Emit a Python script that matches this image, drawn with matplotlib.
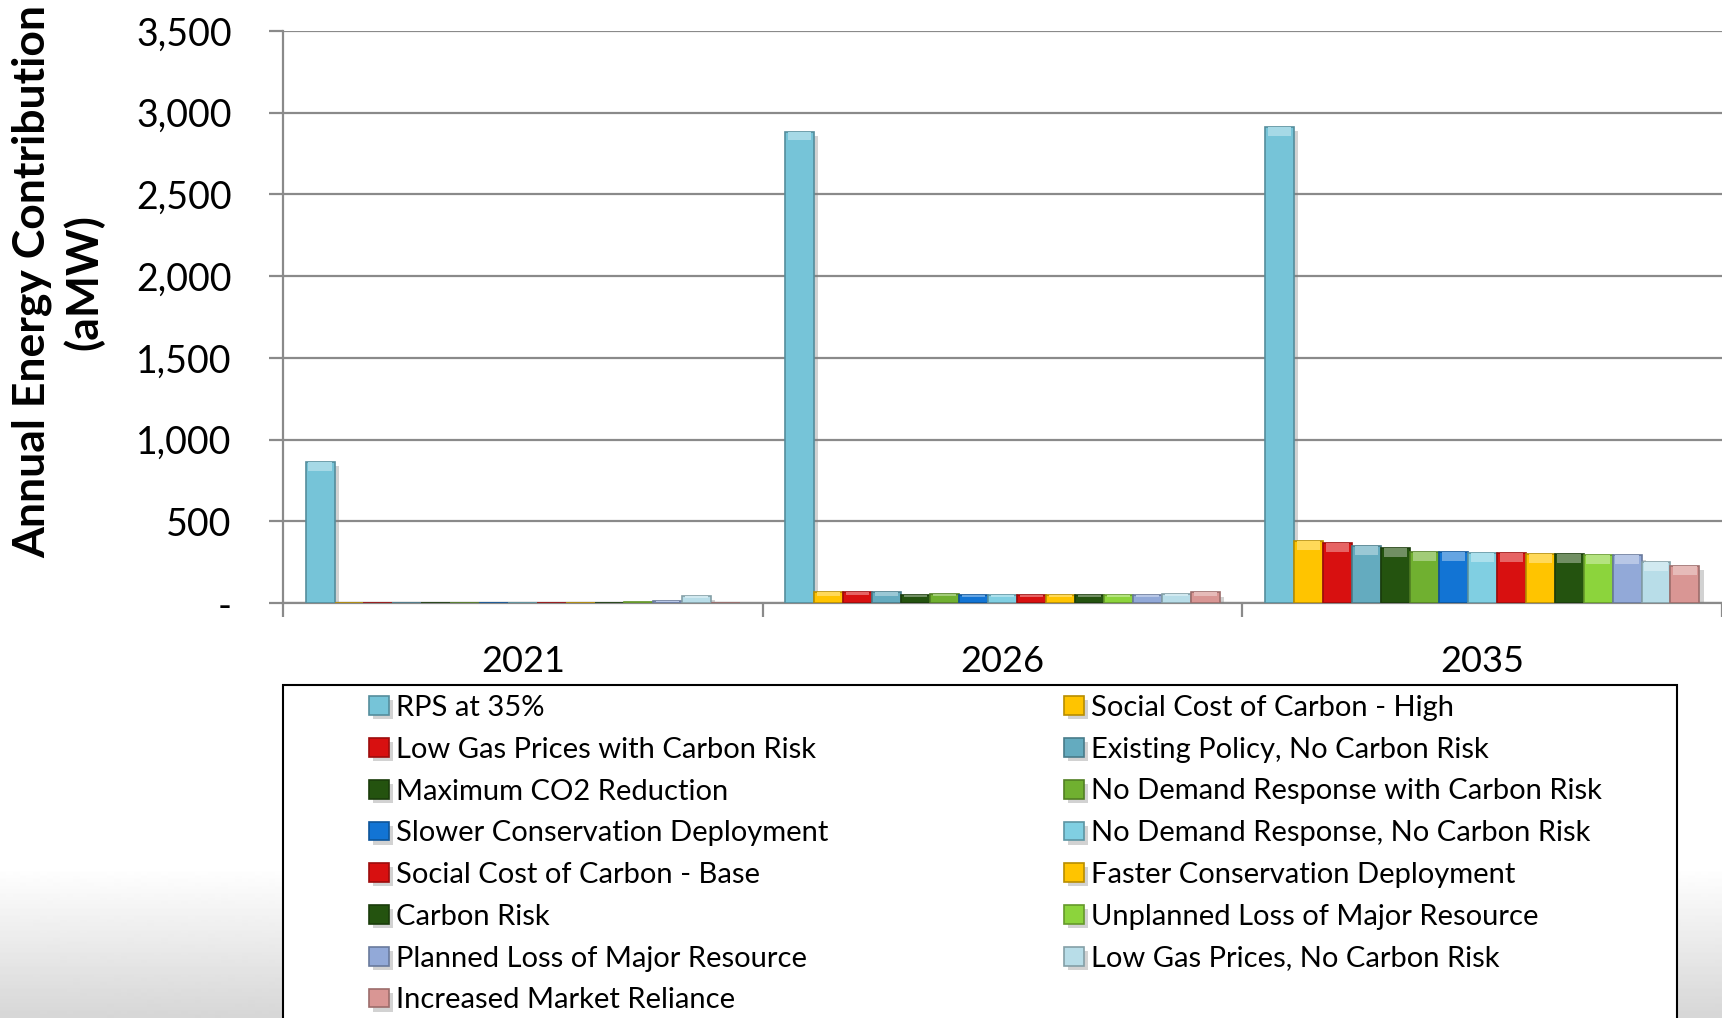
import numpy as np
import matplotlib
matplotlib.use('Agg')
import matplotlib.pyplot as plt
import matplotlib.patheffects as pe
from matplotlib.colors import to_rgb
from matplotlib.patches import Rectangle
from matplotlib.ticker import FuncFormatter

plt.rcParams['font.family'] = ['Lato', 'DejaVu Sans']

years = ['2021', '2026', '2035']

scenarios = ['RPS at 35%', 'Social Cost of Carbon - High',
             'Low Gas Prices with Carbon Risk', 'Existing Policy, No Carbon Risk',
             'Maximum CO2 Reduction', 'No Demand Response with Carbon Risk',
             'Slower Conservation Deployment', 'No Demand Response, No Carbon Risk',
             'Social Cost of Carbon - Base', 'Faster Conservation Deployment',
             'Carbon Risk', 'Unplanned Loss of Major Resource',
             'Planned Loss of Major Resource', 'Low Gas Prices, No Carbon Risk',
             'Increased Market Reliance']

# aMW per scenario, one list per year
vals_2021 = [862, 3, 3, 2, 2, 1, 2, 1, 2, 2, 2, 9, 13, 41, 0]
vals_2026 = [2885, 65, 66, 65, 49, 57, 49, 49, 49, 49, 49, 49, 49, 57, 65]
vals_2035 = [2914, 379, 365, 346, 338, 314, 310, 308, 308, 300, 300, 291, 291, 253, 228]

colors = ['#76c4d8', '#ffc400', '#d81010', '#64abbf', '#24530f', '#70b030',
          '#1274d4', '#80cfe2', '#d81010', '#ffc400', '#24530f', '#8cd43c',
          '#92a9d8', '#b8dde8', '#d99694']


def shade(c, f):
    r, g, b = to_rgb(c)
    if f < 1:
        return (r * f, g * f, b * f)
    t = f - 1
    return (r + (1 - r) * t, g + (1 - g) * t, b + (1 - b) * t)


fig = plt.figure(figsize=(17.22, 10.18), dpi=100)

# slide background: white fading to grey at the bottom
bg = fig.add_axes([0, 0, 1, 1], zorder=-10)
grad = np.ones(1018)
ramp = np.arange(1018) >= 868
grad[ramp] = 1 - 0.16 * (np.arange(1018)[ramp] - 868) / 150
bg.imshow(grad[:, None], cmap='gray', vmin=0, vmax=1, aspect='auto', extent=[0, 1, 0, 1])
bg.axis('off')

ax = fig.add_axes([283 / 1722, 1 - 603 / 1018, 1 - 283 / 1722, 572 / 1018])

data = np.array([vals_2021, vals_2026, vals_2035])
x = np.arange(len(years))
n = len(scenarios)
w = 0.906 / n
shadow = [pe.SimplePatchShadow(offset=(3, -3), shadow_rgbFace='#808080', alpha=0.35), pe.Normal()]

handles = []
for i in range(n):
    pos = x + (i - (n - 1) / 2) * w
    v = data[:, i]
    b = ax.bar(pos, v, width=w, color=colors[i], edgecolor=shade(colors[i], 0.72),
               linewidth=1.2, zorder=3, path_effects=shadow, label=scenarios[i])
    cap = np.minimum(55, v * 0.3)
    ax.bar(pos, cap, bottom=v - cap, width=w * 0.8, color=shade(colors[i], 1.35),
           linewidth=0, zorder=4)
    handles.append(b)

ax.set_xlim(-0.5, 2.5)
ax.set_ylim(0, 3500)
ax.set_yticks(range(0, 3501, 500))
ax.yaxis.set_major_formatter(FuncFormatter(lambda v, p: '-' if v == 0 else f'{v:,.0f}'))
ax.set_xticks(x)
ax.set_xticklabels(years)
ax.set_xticks([-0.5, 0.5, 1.5, 2.5], minor=True)
ax.grid(axis='y', color='#8a8a8a', linewidth=1.6, zorder=0)
ax.set_axisbelow(True)
for s in ['top', 'right']:
    ax.spines[s].set_visible(False)
for s in ['left', 'bottom']:
    ax.spines[s].set_color('#8a8a8a')
    ax.spines[s].set_linewidth(1.6)
ax.tick_params(axis='y', length=10, width=1.6, color='#8a8a8a', labelsize=27, pad=27)
ax.tick_params(axis='x', which='major', length=0, labelsize=26, pad=30)
ax.tick_params(axis='x', which='minor', length=10, width=1.6, color='#8a8a8a')

fig.text(58 / 1722, 1 - 282 / 1018, 'Annual Energy Contribution\n(aMW)', rotation=90,
         ha='center', va='center', fontsize=32, fontweight='bold', linespacing=1.3,
         multialignment='center')

# legend box with two columns, filled row by row
frame = Rectangle((283 / 1722, -0.01), (1677 - 283) / 1722, (1018 - 685) / 1018 + 0.01,
                  transform=fig.transFigure, facecolor='white', edgecolor='black',
                  linewidth=1.5, zorder=1)
fig.add_artist(frame)

kw = dict(loc='upper left', frameon=False, borderpad=0, borderaxespad=0, fontsize=21,
          handlelength=0.68, handleheight=0.62, handletextpad=0.24, labelspacing=0.54)
leg1 = fig.legend(handles[0::2], scenarios[0::2], bbox_to_anchor=(369 / 1722, 1 - 695 / 1018), **kw)
leg2 = fig.legend(handles[1::2], scenarios[1::2], bbox_to_anchor=(1064 / 1722, 1 - 695 / 1018), **kw)
leg1.set_zorder(2)
leg2.set_zorder(2)

fig.savefig('out.png', dpi=100)
